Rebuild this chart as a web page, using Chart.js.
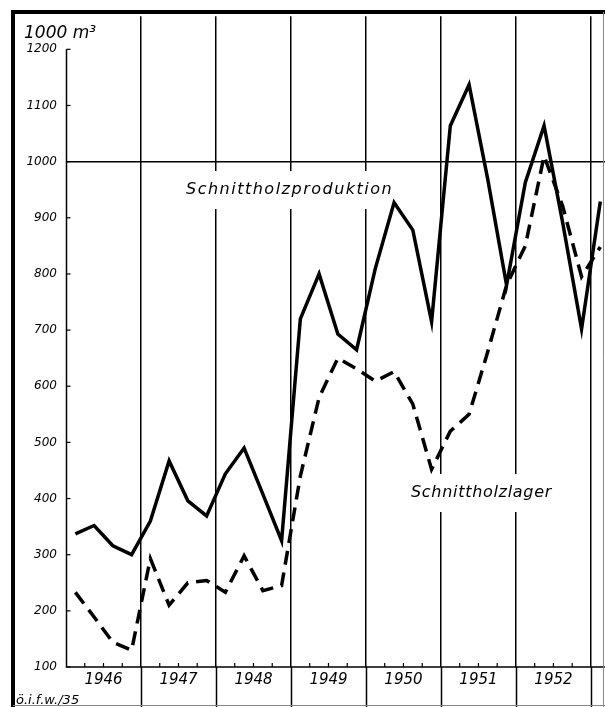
<!DOCTYPE html>
<html>
<head>
<meta charset="utf-8">
<script src="https://cdn.jsdelivr.net/npm/chart.js@4.4.0/dist/chart.umd.min.js"></script>
<style>
    html, body { margin: 0; padding: 0; background: #fff; }
    canvas { display: block; }
</style>
</head>
<body>
<canvas id="chart" width="605" height="707"></canvas>
<script>
// Data: quarterly values, 1946 Q1 .. 1953 Q1 (1000 m3)
const years = ['1946', '1947', '1948', '1949', '1950', '1951', '1952'];
const production = [
    337, 352, 316, 300,
    360, 467, 396, 369,
    444, 490, 408, 325,
    720, 800, 693, 665,
    810, 927, 878, 715,
    1064, 1137, 968, 780,
    963, 1064, 890, 702,
    929,
];
const stock = [
    233, 189, 144, 130,
    293, 210, 250, 254,
    233, 298, 236, 245,
    440, 580, 650, 631,
    609, 626, 568, 452,
    520, 550, 662, 780,
    850, 1010, 920, 795,
    848,
];
const yTicks = [100, 200, 300, 400, 500, 600, 700, 800, 900, 1000, 1100, 1200];

const FONT = '"DejaVu Sans", sans-serif';
const toPoints = (arr) => arr.map((v, i) => ({ x: i + 0.5, y: v }));

// Extra drawing: frame, axis lines, small ticks, labels
const decor = {
    id: 'decor',
    beforeDatasetsDraw(chart) {
        const { ctx, chartArea, scales: { x, y } } = chart;
        ctx.save();
        ctx.strokeStyle = '#000';
        ctx.lineWidth = 1.5;

        // year lines below the x axis
        for (let q = 4; q <= 28; q += 4) {
            const px = Math.round(x.getPixelForValue(q)) + 0.5;
            ctx.beginPath();
            ctx.moveTo(px, chartArea.bottom);
            ctx.lineTo(px, chart.height);
            ctx.stroke();
        }

        // y axis from 1200 down to 100
        const ax = chartArea.left + 0.5;
        ctx.beginPath();
        ctx.moveTo(ax, y.getPixelForValue(1200));
        ctx.lineTo(ax, y.getPixelForValue(100));
        ctx.lineTo(chartArea.right, y.getPixelForValue(100));
        ctx.stroke();

        // y tick marks (inside)
        ctx.lineWidth = 1.2;
        yTicks.forEach((v) => {
            const py = y.getPixelForValue(v);
            ctx.beginPath();
            ctx.moveTo(ax, py);
            ctx.lineTo(ax + 4, py);
            ctx.stroke();
        });

        // quarter ticks on x axis
        const base = y.getPixelForValue(100);
        for (let q = 1; q < 29; q++) {
            if (q % 4 === 0) continue;
            const px = x.getPixelForValue(q);
            ctx.beginPath();
            ctx.moveTo(px, base);
            ctx.lineTo(px, base - 4);
            ctx.stroke();
        }

        // series labels on white boxes (they cut the grid lines)
        const labels = [
            { text: 'Schnittholzproduktion', x: 186, y: 194, spacing: '1.5px' },
            { text: 'Schnittholzlager', x: 411, y: 497, spacing: '0.7px' },
        ];
        ctx.font = 'italic 16px ' + FONT;
        ctx.textBaseline = 'alphabetic';
        labels.forEach((l) => {
            ctx.letterSpacing = l.spacing;
            const w = ctx.measureText(l.text).width;
            ctx.fillStyle = '#fff';
            ctx.fillRect(l.x - 6, l.y - 23, w + 12, 38);
            ctx.fillStyle = '#000';
            ctx.fillText(l.text, l.x, l.y);
        });
        ctx.letterSpacing = '0px';
        ctx.restore();
    },
    afterDraw(chart) {
        const { ctx } = chart;
        ctx.save();
        ctx.fillStyle = '#000';

        // unit label
        ctx.font = 'italic 17px ' + FONT;
        ctx.textBaseline = 'alphabetic';
        ctx.fillText('1000 m³', 24, 38);

        // source note
        ctx.font = 'italic 13px ' + FONT;
        ctx.fillText('ö.i.f.w./35', 16, 704);

        // frame
        ctx.strokeStyle = '#000';
        ctx.lineWidth = 4;
        ctx.beginPath();
        ctx.moveTo(13, chart.height);
        ctx.lineTo(13, 12);
        ctx.lineTo(chart.width, 12);
        ctx.stroke();
        ctx.lineWidth = 1;
        ctx.strokeStyle = '#888';
        ctx.beginPath();
        ctx.moveTo(13, 705.5);
        ctx.lineTo(chart.width, 705.5);
        ctx.moveTo(603.5, 12);
        ctx.lineTo(603.5, chart.height);
        ctx.stroke();
        ctx.restore();
    },
};

new Chart(document.getElementById('chart'), {
    type: 'line',
    data: {
        datasets: [
            {
                label: 'Schnittholzproduktion',
                data: toPoints(production),
                borderColor: '#000',
                borderWidth: 3.5,
                pointRadius: 0,
                tension: 0,
            },
            {
                label: 'Schnittholzlager',
                data: toPoints(stock),
                borderColor: '#000',
                borderWidth: 3.5,
                borderDash: [14, 8],
                pointRadius: 0,
                tension: 0,
            },
        ],
    },
    options: {
        responsive: false,
        animation: false,
        layout: { padding: { top: 13, left: 0, right: 0, bottom: 0 } },
        plugins: {
            legend: { display: false },
            tooltip: { enabled: false },
        },
        scales: {
            x: {
                type: 'linear',
                min: 0,
                max: 28.75,
                border: { display: false },
                afterBuildTicks(scale) {
                    const t = [];
                    for (let q = 0; q <= 28; q += 2) t.push({ value: q });
                    scale.ticks = t;
                },
                afterFit(scale) { scale.height = 40; },
                grid: {
                    drawTicks: false,
                    lineWidth: 1.5,
                    color: (c) => (c.tick && c.tick.value % 4 === 0 && c.tick.value > 0 ? '#000' : 'rgba(0,0,0,0)'),
                },
                ticks: {
                    autoSkip: false,
                    maxRotation: 0,
                    padding: 4,
                    color: '#000',
                    font: { family: FONT, size: 15, style: 'italic' },
                    callback: (v) => (v % 4 === 2 ? years[(v - 2) / 4] : ''),
                },
            },
            y: {
                min: 100,
                max: 1259,
                border: { display: false },
                afterBuildTicks(scale) {
                    scale.ticks = yTicks.map((v) => ({ value: v }));
                },
                afterFit(scale) { scale.width = 66; },
                grid: {
                    drawTicks: false,
                    lineWidth: 1.5,
                    color: (c) => (c.tick && c.tick.value === 1000 ? '#000' : 'rgba(0,0,0,0)'),
                },
                ticks: {
                    padding: 9,
                    color: '#000',
                    font: { family: FONT, size: 12, style: 'italic' },
                    callback: (v) => String(v),
                },
            },
        },
    },
    plugins: [decor],
});
</script>
</body>
</html>
